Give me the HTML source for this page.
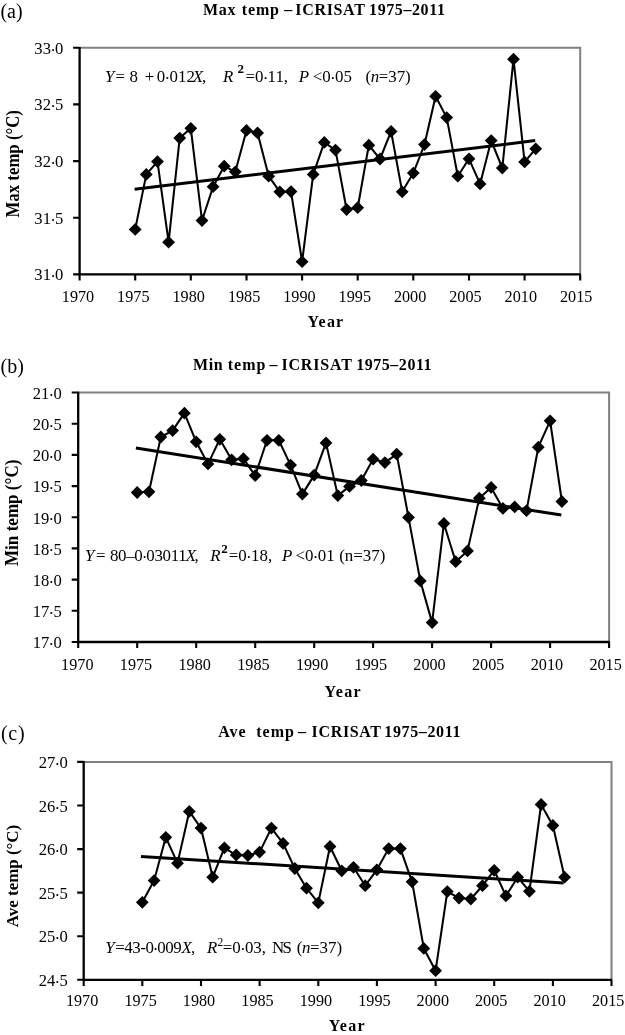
<!DOCTYPE html>
<html><head><meta charset="utf-8"><title>ICRISAT temperature trends</title>
<style>html,body{margin:0;padding:0;background:#fff}body{width:625px;height:1035px;overflow:hidden}svg{display:block;will-change:transform}text{font-family:"Liberation Serif",serif;fill:#000}.b{font-weight:bold}.i{font-style:italic}</style></head><body>
<svg width="625" height="1035" viewBox="0 0 625 1035">
<rect width="625" height="1035" fill="#fff"/>
<g id="panel-a">
<path d="M79.6 47.8H580.2V274.4" fill="none" stroke="#808080" stroke-width="2"/>
<path d="M79.6 47.0V275.3M78.7 274.4H580.8" fill="none" stroke="#000" stroke-width="2.3"/>
<path d="M73.1 47.8H79.6M73.1 104.4H79.6M73.1 161.1H79.6M73.1 217.8H79.6M73.1 274.4H79.6M79.6 274.4V280.5M135.2 274.4V280.5M190.8 274.4V280.5M246.5 274.4V280.5M302.1 274.4V280.5M357.7 274.4V280.5M413.3 274.4V280.5M469.0 274.4V280.5M524.6 274.4V280.5M580.2 274.4V280.5" fill="none" stroke="#000" stroke-width="2.1"/>
<text transform="translate(63.4 53.7) scale(1 1.05)" font-size="16.6" text-anchor="end">33<tspan dy="-3">.</tspan><tspan dy="3">0</tspan></text>
<text transform="translate(63.4 110.3) scale(1 1.05)" font-size="16.6" text-anchor="end">32<tspan dy="-3">.</tspan><tspan dy="3">5</tspan></text>
<text transform="translate(63.4 167.0) scale(1 1.05)" font-size="16.6" text-anchor="end">32<tspan dy="-3">.</tspan><tspan dy="3">0</tspan></text>
<text transform="translate(63.4 223.7) scale(1 1.05)" font-size="16.6" text-anchor="end">31<tspan dy="-3">.</tspan><tspan dy="3">5</tspan></text>
<text transform="translate(63.4 280.3) scale(1 1.05)" font-size="16.6" text-anchor="end">31<tspan dy="-3">.</tspan><tspan dy="3">0</tspan></text>
<text transform="translate(78.0 301.9) scale(1 1.05)" font-size="16.6" text-anchor="middle" textLength="32.4" lengthAdjust="spacingAndGlyphs">1970</text>
<text transform="translate(133.3 301.9) scale(1 1.05)" font-size="16.6" text-anchor="middle" textLength="32.4" lengthAdjust="spacingAndGlyphs">1975</text>
<text transform="translate(188.7 301.9) scale(1 1.05)" font-size="16.6" text-anchor="middle" textLength="32.4" lengthAdjust="spacingAndGlyphs">1980</text>
<text transform="translate(244.1 301.9) scale(1 1.05)" font-size="16.6" text-anchor="middle" textLength="32.4" lengthAdjust="spacingAndGlyphs">1985</text>
<text transform="translate(299.4 301.9) scale(1 1.05)" font-size="16.6" text-anchor="middle" textLength="32.4" lengthAdjust="spacingAndGlyphs">1990</text>
<text transform="translate(354.8 301.9) scale(1 1.05)" font-size="16.6" text-anchor="middle" textLength="32.4" lengthAdjust="spacingAndGlyphs">1995</text>
<text transform="translate(410.1 301.9) scale(1 1.05)" font-size="16.6" text-anchor="middle" textLength="32.4" lengthAdjust="spacingAndGlyphs">2000</text>
<text transform="translate(465.4 301.9) scale(1 1.05)" font-size="16.6" text-anchor="middle" textLength="32.4" lengthAdjust="spacingAndGlyphs">2005</text>
<text transform="translate(520.8 301.9) scale(1 1.05)" font-size="16.6" text-anchor="middle" textLength="32.4" lengthAdjust="spacingAndGlyphs">2010</text>
<text transform="translate(576.2 301.9) scale(1 1.05)" font-size="16.6" text-anchor="middle" textLength="32.4" lengthAdjust="spacingAndGlyphs">2015</text>
<polyline fill="none" stroke="#000" stroke-width="2.05" stroke-linejoin="round" points="135.2,229.4 146.3,174.4 157.5,161.6 168.6,242.2 179.7,138.1 190.8,128.3 202.0,220.5 213.1,186.7 224.2,166.2 235.3,171.8 246.5,130.4 257.6,132.9 268.7,176.2 279.8,191.8 291.0,191.6 302.1,261.7 313.2,174.4 324.3,142.4 335.5,150.1 346.6,209.5 357.7,207.7 368.8,145.2 380.0,159 391.1,131.4 402.2,191.8 413.3,173.1 424.5,144.5 435.6,96.3 446.7,117.6 457.8,176.2 469.0,158.8 480.1,183.9 491.2,140.6 502.3,168 513.5,59.2 524.6,161.9 535.7,148.8"/>
<line x1="134.6" y1="189.3" x2="535.2" y2="140.6" stroke="#000" stroke-width="3"/>
<path d="M128.8 229.4L135.2 223.0L141.6 229.4L135.2 235.8ZM139.9 174.4L146.3 168.0L152.7 174.4L146.3 180.8ZM151.1 161.6L157.5 155.2L163.9 161.6L157.5 168.0ZM162.2 242.2L168.6 235.8L175.0 242.2L168.6 248.6ZM173.3 138.1L179.7 131.7L186.1 138.1L179.7 144.5ZM184.4 128.3L190.8 121.9L197.2 128.3L190.8 134.7ZM195.6 220.5L202.0 214.1L208.4 220.5L202.0 226.9ZM206.7 186.7L213.1 180.3L219.5 186.7L213.1 193.1ZM217.8 166.2L224.2 159.8L230.6 166.2L224.2 172.6ZM228.9 171.8L235.3 165.4L241.7 171.8L235.3 178.2ZM240.1 130.4L246.5 124.0L252.9 130.4L246.5 136.8ZM251.2 132.9L257.6 126.5L264.0 132.9L257.6 139.3ZM262.3 176.2L268.7 169.8L275.1 176.2L268.7 182.6ZM273.4 191.8L279.8 185.4L286.2 191.8L279.8 198.2ZM284.6 191.6L291.0 185.2L297.4 191.6L291.0 198.0ZM295.7 261.7L302.1 255.3L308.5 261.7L302.1 268.1ZM306.8 174.4L313.2 168.0L319.6 174.4L313.2 180.8ZM317.9 142.4L324.3 136.0L330.7 142.4L324.3 148.8ZM329.1 150.1L335.5 143.7L341.9 150.1L335.5 156.5ZM340.2 209.5L346.6 203.1L353.0 209.5L346.6 215.9ZM351.3 207.7L357.7 201.3L364.1 207.7L357.7 214.1ZM362.4 145.2L368.8 138.8L375.2 145.2L368.8 151.6ZM373.6 159L380.0 152.6L386.4 159L380.0 165.4ZM384.7 131.4L391.1 125.0L397.5 131.4L391.1 137.8ZM395.8 191.8L402.2 185.4L408.6 191.8L402.2 198.2ZM406.9 173.1L413.3 166.7L419.7 173.1L413.3 179.5ZM418.1 144.5L424.5 138.1L430.9 144.5L424.5 150.9ZM429.2 96.3L435.6 89.9L442.0 96.3L435.6 102.7ZM440.3 117.6L446.7 111.2L453.1 117.6L446.7 124.0ZM451.4 176.2L457.8 169.8L464.2 176.2L457.8 182.6ZM462.6 158.8L469.0 152.4L475.4 158.8L469.0 165.2ZM473.7 183.9L480.1 177.5L486.5 183.9L480.1 190.3ZM484.8 140.6L491.2 134.2L497.6 140.6L491.2 147.0ZM495.9 168L502.3 161.6L508.7 168L502.3 174.4ZM507.1 59.2L513.5 52.8L519.9 59.2L513.5 65.6ZM518.2 161.9L524.6 155.5L531.0 161.9L524.6 168.3ZM529.3 148.8L535.7 142.4L542.1 148.8L535.7 155.2Z" fill="#000"/>

<text x="0.4" y="18.2" font-size="20">(a)</text>
<text class="b" x="203" y="15.4" font-size="16" textLength="32.4">Max</text>
<text class="b" x="241.8" y="15.4" font-size="16" textLength="37.2">temp</text>
<text class="b" x="284.2" y="15.4" font-size="16" textLength="8.4">–</text>
<text class="b" x="295.3" y="15.4" font-size="16" textLength="69.5" lengthAdjust="spacing">ICRISAT</text>
<text class="b" x="369.1" y="15.4" font-size="16" textLength="75.8">1975–2011</text>

<text class="b" x="307.6" y="327.4" font-size="16" textLength="35.6">Year</text>
<text class="b" transform="translate(18.6 163.8) rotate(-90)" font-size="18" text-anchor="middle" textLength="107.4" lengthAdjust="spacingAndGlyphs">Max temp (°C)</text>
<text y="81.6" font-size="16.9"><tspan x="105.0" class="i">Y</tspan><tspan x="115.5">=</tspan><tspan x="129.4">8</tspan><tspan x="144.7">+</tspan><tspan x="156.8">0<tspan dy="-3">.</tspan><tspan dy="3">012</tspan></tspan><tspan x="192.7" class="i">X</tspan><tspan x="202">,</tspan><tspan x="223" class="i">R</tspan><tspan x="237.6" class="b" dy="-8.3" font-size="13">2</tspan><tspan x="245.4" dy="8.3">=0<tspan dy="-3">.</tspan><tspan dy="3">11,</tspan></tspan><tspan x="298.8" class="i">P</tspan><tspan x="312.8">&lt;0<tspan dy="-3">.</tspan><tspan dy="3">05</tspan></tspan><tspan x="365.4">(</tspan><tspan x="370.7" class="i">n</tspan><tspan x="378.7">=37)</tspan></text>

</g>
<g id="panel-b">
<path d="M78.2 392.5H609.1V642.0" fill="none" stroke="#808080" stroke-width="2"/>
<path d="M78.2 391.7V642.9M77.3 642.0H609.7" fill="none" stroke="#000" stroke-width="2.3"/>
<path d="M71.7 392.5H78.2M71.7 423.7H78.2M71.7 454.9H78.2M71.7 486.1H78.2M71.7 517.2H78.2M71.7 548.4H78.2M71.7 579.6H78.2M71.7 610.8H78.2M71.7 642.0H78.2M78.2 642.0V648.1M137.2 642.0V648.1M196.2 642.0V648.1M255.2 642.0V648.1M314.2 642.0V648.1M373.1 642.0V648.1M432.1 642.0V648.1M491.1 642.0V648.1M550.1 642.0V648.1M609.1 642.0V648.1" fill="none" stroke="#000" stroke-width="2.1"/>
<text transform="translate(61.8 398.7) scale(1 1.05)" font-size="16.6" text-anchor="end">21<tspan dy="-3">.</tspan><tspan dy="3">0</tspan></text>
<text transform="translate(61.8 429.9) scale(1 1.05)" font-size="16.6" text-anchor="end">20<tspan dy="-3">.</tspan><tspan dy="3">5</tspan></text>
<text transform="translate(61.8 461.1) scale(1 1.05)" font-size="16.6" text-anchor="end">20<tspan dy="-3">.</tspan><tspan dy="3">0</tspan></text>
<text transform="translate(61.8 492.3) scale(1 1.05)" font-size="16.6" text-anchor="end">19<tspan dy="-3">.</tspan><tspan dy="3">5</tspan></text>
<text transform="translate(61.8 523.5) scale(1 1.05)" font-size="16.6" text-anchor="end">19<tspan dy="-3">.</tspan><tspan dy="3">0</tspan></text>
<text transform="translate(61.8 554.6) scale(1 1.05)" font-size="16.6" text-anchor="end">18<tspan dy="-3">.</tspan><tspan dy="3">5</tspan></text>
<text transform="translate(61.8 585.8) scale(1 1.05)" font-size="16.6" text-anchor="end">18<tspan dy="-3">.</tspan><tspan dy="3">0</tspan></text>
<text transform="translate(61.8 617.0) scale(1 1.05)" font-size="16.6" text-anchor="end">17<tspan dy="-3">.</tspan><tspan dy="3">5</tspan></text>
<text transform="translate(61.8 648.2) scale(1 1.05)" font-size="16.6" text-anchor="end">17<tspan dy="-3">.</tspan><tspan dy="3">0</tspan></text>
<text transform="translate(77.3 669.9) scale(1 1.05)" font-size="16.6" text-anchor="middle" textLength="32.4" lengthAdjust="spacingAndGlyphs">1970</text>
<text transform="translate(136.0 669.9) scale(1 1.05)" font-size="16.6" text-anchor="middle" textLength="32.4" lengthAdjust="spacingAndGlyphs">1975</text>
<text transform="translate(194.7 669.9) scale(1 1.05)" font-size="16.6" text-anchor="middle" textLength="32.4" lengthAdjust="spacingAndGlyphs">1980</text>
<text transform="translate(253.4 669.9) scale(1 1.05)" font-size="16.6" text-anchor="middle" textLength="32.4" lengthAdjust="spacingAndGlyphs">1985</text>
<text transform="translate(312.1 669.9) scale(1 1.05)" font-size="16.6" text-anchor="middle" textLength="32.4" lengthAdjust="spacingAndGlyphs">1990</text>
<text transform="translate(370.8 669.9) scale(1 1.05)" font-size="16.6" text-anchor="middle" textLength="32.4" lengthAdjust="spacingAndGlyphs">1995</text>
<text transform="translate(429.5 669.9) scale(1 1.05)" font-size="16.6" text-anchor="middle" textLength="32.4" lengthAdjust="spacingAndGlyphs">2000</text>
<text transform="translate(488.2 669.9) scale(1 1.05)" font-size="16.6" text-anchor="middle" textLength="32.4" lengthAdjust="spacingAndGlyphs">2005</text>
<text transform="translate(546.9 669.9) scale(1 1.05)" font-size="16.6" text-anchor="middle" textLength="32.4" lengthAdjust="spacingAndGlyphs">2010</text>
<text transform="translate(605.6 669.9) scale(1 1.05)" font-size="16.6" text-anchor="middle" textLength="32.4" lengthAdjust="spacingAndGlyphs">2015</text>
<polyline fill="none" stroke="#000" stroke-width="2.05" stroke-linejoin="round" points="137.2,492.5 149.0,491.8 160.8,437 172.6,430.6 184.4,413.2 196.2,441.8 208.0,463.9 219.8,439.3 231.6,459.8 243.4,458.7 255.2,475.6 267.0,440.3 278.8,440.3 290.6,465.1 302.4,494.1 314.2,475.1 326.0,442.9 337.8,495.6 349.5,486.4 361.3,480.5 373.1,459.2 384.9,462.6 396.7,454.1 408.5,517.4 420.3,580.9 432.1,622.6 443.9,523.5 455.7,561.7 467.5,550.9 479.3,498.2 491.1,487.4 502.9,508.4 514.7,506.9 526.5,510.7 538.3,447.2 550.1,420.8 561.9,501.5"/>
<line x1="135.9" y1="448.0" x2="561.3" y2="515.1" stroke="#000" stroke-width="3"/>
<path d="M130.8 492.5L137.2 486.1L143.6 492.5L137.2 498.9ZM142.6 491.8L149.0 485.4L155.4 491.8L149.0 498.2ZM154.4 437L160.8 430.6L167.2 437L160.8 443.4ZM166.2 430.6L172.6 424.2L179.0 430.6L172.6 437.0ZM178.0 413.2L184.4 406.8L190.8 413.2L184.4 419.6ZM189.8 441.8L196.2 435.4L202.6 441.8L196.2 448.2ZM201.6 463.9L208.0 457.5L214.4 463.9L208.0 470.3ZM213.4 439.3L219.8 432.9L226.2 439.3L219.8 445.7ZM225.2 459.8L231.6 453.4L238.0 459.8L231.6 466.2ZM237.0 458.7L243.4 452.3L249.8 458.7L243.4 465.1ZM248.8 475.6L255.2 469.2L261.6 475.6L255.2 482.0ZM260.6 440.3L267.0 433.9L273.4 440.3L267.0 446.7ZM272.4 440.3L278.8 433.9L285.2 440.3L278.8 446.7ZM284.2 465.1L290.6 458.7L297.0 465.1L290.6 471.5ZM296.0 494.1L302.4 487.7L308.8 494.1L302.4 500.5ZM307.8 475.1L314.2 468.7L320.6 475.1L314.2 481.5ZM319.6 442.9L326.0 436.5L332.4 442.9L326.0 449.3ZM331.4 495.6L337.8 489.2L344.2 495.6L337.8 502.0ZM343.1 486.4L349.5 480.0L355.9 486.4L349.5 492.8ZM354.9 480.5L361.3 474.1L367.7 480.5L361.3 486.9ZM366.7 459.2L373.1 452.8L379.5 459.2L373.1 465.6ZM378.5 462.6L384.9 456.2L391.3 462.6L384.9 469.0ZM390.3 454.1L396.7 447.7L403.1 454.1L396.7 460.5ZM402.1 517.4L408.5 511.0L414.9 517.4L408.5 523.8ZM413.9 580.9L420.3 574.5L426.7 580.9L420.3 587.3ZM425.7 622.6L432.1 616.2L438.5 622.6L432.1 629.0ZM437.5 523.5L443.9 517.1L450.3 523.5L443.9 529.9ZM449.3 561.7L455.7 555.3L462.1 561.7L455.7 568.1ZM461.1 550.9L467.5 544.5L473.9 550.9L467.5 557.3ZM472.9 498.2L479.3 491.8L485.7 498.2L479.3 504.6ZM484.7 487.4L491.1 481.0L497.5 487.4L491.1 493.8ZM496.5 508.4L502.9 502.0L509.3 508.4L502.9 514.8ZM508.3 506.9L514.7 500.5L521.1 506.9L514.7 513.3ZM520.1 510.7L526.5 504.3L532.9 510.7L526.5 517.1ZM531.9 447.2L538.3 440.8L544.7 447.2L538.3 453.6ZM543.7 420.8L550.1 414.4L556.5 420.8L550.1 427.2ZM555.5 501.5L561.9 495.1L568.3 501.5L561.9 507.9Z" fill="#000"/>

<text x="0.5" y="373" font-size="20">(b)</text>
<text class="b" x="193" y="370.0" font-size="16" textLength="29.6">Min</text>
<text class="b" x="227.8" y="370.0" font-size="16" textLength="37.6">temp</text>
<text class="b" x="269.5" y="370.0" font-size="16" textLength="8.6">–</text>
<text class="b" x="281.4" y="370.0" font-size="16" textLength="70.4" lengthAdjust="spacing">ICRISAT</text>
<text class="b" x="356.2" y="370.0" font-size="16" textLength="75.4">1975–2011</text>

<text class="b" x="324.6" y="697.0" font-size="16" textLength="36">Year</text>
<text class="b" transform="translate(18.3 512.8) rotate(-90)" font-size="18" text-anchor="middle" textLength="106.4" lengthAdjust="spacingAndGlyphs">Min temp (°C)</text>
<text y="560.9" font-size="16.9"><tspan x="85.0" class="i">Y</tspan><tspan x="95.9">=</tspan><tspan x="110.0" textLength="76.6">80–0<tspan dy="-3">.</tspan><tspan dy="3">03011</tspan></tspan><tspan x="185.8" class="i">X</tspan><tspan x="194.4">,</tspan><tspan x="210.3" class="i">R</tspan><tspan x="221.3" class="b" dy="-8.3" font-size="13">2</tspan><tspan x="228.8" dy="8.3">=0<tspan dy="-3">.</tspan><tspan dy="3">18,</tspan></tspan><tspan x="282.1" class="i">P</tspan><tspan x="295.6">&lt;0<tspan dy="-3">.</tspan><tspan dy="3">01</tspan></tspan><tspan x="339.2">(n=37)</tspan></text>

</g>
<g id="panel-c">
<path d="M83.7 761.9H611.5V979.8" fill="none" stroke="#808080" stroke-width="2"/>
<path d="M83.7 761.1V980.7M82.8 979.8H612.1" fill="none" stroke="#000" stroke-width="2.3"/>
<path d="M77.2 761.9H83.7M77.2 805.5H83.7M77.2 849.1H83.7M77.2 892.6H83.7M77.2 936.2H83.7M77.2 979.8H83.7M83.7 979.8V985.9M142.3 979.8V985.9M201.0 979.8V985.9M259.6 979.8V985.9M318.3 979.8V985.9M376.9 979.8V985.9M435.6 979.8V985.9M494.2 979.8V985.9M552.9 979.8V985.9M611.5 979.8V985.9" fill="none" stroke="#000" stroke-width="2.1"/>
<text transform="translate(67.8 768.1) scale(1 1.05)" font-size="16.6" text-anchor="end">27<tspan dy="-3">.</tspan><tspan dy="3">0</tspan></text>
<text transform="translate(67.8 811.7) scale(1 1.05)" font-size="16.6" text-anchor="end">26<tspan dy="-3">.</tspan><tspan dy="3">5</tspan></text>
<text transform="translate(67.8 855.3) scale(1 1.05)" font-size="16.6" text-anchor="end">26<tspan dy="-3">.</tspan><tspan dy="3">0</tspan></text>
<text transform="translate(67.8 898.8) scale(1 1.05)" font-size="16.6" text-anchor="end">25<tspan dy="-3">.</tspan><tspan dy="3">5</tspan></text>
<text transform="translate(67.8 942.4) scale(1 1.05)" font-size="16.6" text-anchor="end">25<tspan dy="-3">.</tspan><tspan dy="3">0</tspan></text>
<text transform="translate(67.8 986.0) scale(1 1.05)" font-size="16.6" text-anchor="end">24<tspan dy="-3">.</tspan><tspan dy="3">5</tspan></text>
<text transform="translate(82.1 1005.8) scale(1 1.05)" font-size="16.6" text-anchor="middle" textLength="32.4" lengthAdjust="spacingAndGlyphs">1970</text>
<text transform="translate(140.6 1005.8) scale(1 1.05)" font-size="16.6" text-anchor="middle" textLength="32.4" lengthAdjust="spacingAndGlyphs">1975</text>
<text transform="translate(199.0 1005.8) scale(1 1.05)" font-size="16.6" text-anchor="middle" textLength="32.4" lengthAdjust="spacingAndGlyphs">1980</text>
<text transform="translate(257.5 1005.8) scale(1 1.05)" font-size="16.6" text-anchor="middle" textLength="32.4" lengthAdjust="spacingAndGlyphs">1985</text>
<text transform="translate(315.9 1005.8) scale(1 1.05)" font-size="16.6" text-anchor="middle" textLength="32.4" lengthAdjust="spacingAndGlyphs">1990</text>
<text transform="translate(374.4 1005.8) scale(1 1.05)" font-size="16.6" text-anchor="middle" textLength="32.4" lengthAdjust="spacingAndGlyphs">1995</text>
<text transform="translate(432.8 1005.8) scale(1 1.05)" font-size="16.6" text-anchor="middle" textLength="32.4" lengthAdjust="spacingAndGlyphs">2000</text>
<text transform="translate(491.2 1005.8) scale(1 1.05)" font-size="16.6" text-anchor="middle" textLength="32.4" lengthAdjust="spacingAndGlyphs">2005</text>
<text transform="translate(549.7 1005.8) scale(1 1.05)" font-size="16.6" text-anchor="middle" textLength="32.4" lengthAdjust="spacingAndGlyphs">2010</text>
<text transform="translate(608.2 1005.8) scale(1 1.05)" font-size="16.6" text-anchor="middle" textLength="32.4" lengthAdjust="spacingAndGlyphs">2015</text>
<polyline fill="none" stroke="#000" stroke-width="2.05" stroke-linejoin="round" points="142.3,902.3 154.1,880.6 165.8,837.3 177.5,863.2 189.3,811.4 201.0,828.1 212.7,877.2 224.4,847.8 236.2,855 247.9,855.5 259.6,852.1 271.4,828.1 283.1,843.4 294.8,868.5 306.5,888.2 318.3,902.8 330.0,846.5 341.7,870.8 353.5,867.3 365.2,885.7 376.9,869.8 388.7,848.6 400.4,848.6 412.1,881.8 423.8,948.4 435.6,970.7 447.3,891.6 459.0,898 470.8,899 482.5,885.7 494.2,870.3 505.9,895.9 517.7,877.2 529.4,891.3 541.1,804.5 552.9,825.5 564.6,877.2"/>
<line x1="141.0" y1="856.5" x2="563.6" y2="883.1" stroke="#000" stroke-width="3"/>
<path d="M135.9 902.3L142.3 895.9L148.7 902.3L142.3 908.7ZM147.7 880.6L154.1 874.2L160.5 880.6L154.1 887.0ZM159.4 837.3L165.8 830.9L172.2 837.3L165.8 843.7ZM171.1 863.2L177.5 856.8L183.9 863.2L177.5 869.6ZM182.9 811.4L189.3 805.0L195.7 811.4L189.3 817.8ZM194.6 828.1L201.0 821.7L207.4 828.1L201.0 834.5ZM206.3 877.2L212.7 870.8L219.1 877.2L212.7 883.6ZM218.0 847.8L224.4 841.4L230.8 847.8L224.4 854.2ZM229.8 855L236.2 848.6L242.6 855L236.2 861.4ZM241.5 855.5L247.9 849.1L254.3 855.5L247.9 861.9ZM253.2 852.1L259.6 845.7L266.0 852.1L259.6 858.5ZM265.0 828.1L271.4 821.7L277.8 828.1L271.4 834.5ZM276.7 843.4L283.1 837.0L289.5 843.4L283.1 849.8ZM288.4 868.5L294.8 862.1L301.2 868.5L294.8 874.9ZM300.1 888.2L306.5 881.8L312.9 888.2L306.5 894.6ZM311.9 902.8L318.3 896.4L324.7 902.8L318.3 909.2ZM323.6 846.5L330.0 840.1L336.4 846.5L330.0 852.9ZM335.3 870.8L341.7 864.4L348.1 870.8L341.7 877.2ZM347.1 867.3L353.5 860.9L359.9 867.3L353.5 873.7ZM358.8 885.7L365.2 879.3L371.6 885.7L365.2 892.1ZM370.5 869.8L376.9 863.4L383.3 869.8L376.9 876.2ZM382.3 848.6L388.7 842.2L395.1 848.6L388.7 855.0ZM394.0 848.6L400.4 842.2L406.8 848.6L400.4 855.0ZM405.7 881.8L412.1 875.4L418.5 881.8L412.1 888.2ZM417.4 948.4L423.8 942.0L430.2 948.4L423.8 954.8ZM429.2 970.7L435.6 964.3L442.0 970.7L435.6 977.1ZM440.9 891.6L447.3 885.2L453.7 891.6L447.3 898.0ZM452.6 898L459.0 891.6L465.4 898L459.0 904.4ZM464.4 899L470.8 892.6L477.2 899L470.8 905.4ZM476.1 885.7L482.5 879.3L488.9 885.7L482.5 892.1ZM487.8 870.3L494.2 863.9L500.6 870.3L494.2 876.7ZM499.5 895.9L505.9 889.5L512.3 895.9L505.9 902.3ZM511.3 877.2L517.7 870.8L524.1 877.2L517.7 883.6ZM523.0 891.3L529.4 884.9L535.8 891.3L529.4 897.7ZM534.7 804.5L541.1 798.1L547.5 804.5L541.1 810.9ZM546.5 825.5L552.9 819.1L559.3 825.5L552.9 831.9ZM558.2 877.2L564.6 870.8L571.0 877.2L564.6 883.6Z" fill="#000"/>

<text x="1.0" y="739.6" font-size="20" textLength="23.6">(c)</text>
<text class="b" x="218.3" y="737.0" font-size="16" textLength="27.2">Ave</text>
<text class="b" x="256.2" y="737.0" font-size="16" textLength="37.8">temp</text>
<text class="b" x="297.9" y="737.0" font-size="16" textLength="8.6">–</text>
<text class="b" x="311.6" y="737.0" font-size="16" textLength="69.4" lengthAdjust="spacing">ICRISAT</text>
<text class="b" x="384.3" y="737.0" font-size="16" textLength="76.2">1975–2011</text>

<text class="b" x="328.8" y="1030.9" font-size="16" textLength="35.8">Year</text>
<text class="b" transform="translate(18.3 876.0) rotate(-90)" font-size="17.6" text-anchor="middle" textLength="102.4" lengthAdjust="spacingAndGlyphs">Ave temp (°C)</text>
<text y="953.3" font-size="16.9"><tspan x="105.2" class="i">Y</tspan><tspan x="115.2" textLength="66.6">=43-0<tspan dy="-3">.</tspan><tspan dy="3">009</tspan></tspan><tspan x="181.4" class="i">X</tspan><tspan x="191">,</tspan><tspan x="207" class="i">R</tspan><tspan x="217.6" dy="-7" font-size="11.5">2</tspan><tspan x="222.7" dy="7">=0<tspan dy="-3">.</tspan><tspan dy="3">03,</tspan></tspan><tspan x="272.0" textLength="20">NS</tspan><tspan x="296.8">(</tspan><tspan x="302.0" class="i">n</tspan><tspan x="310.0">=37)</tspan></text>

</g>
</svg></body></html>
